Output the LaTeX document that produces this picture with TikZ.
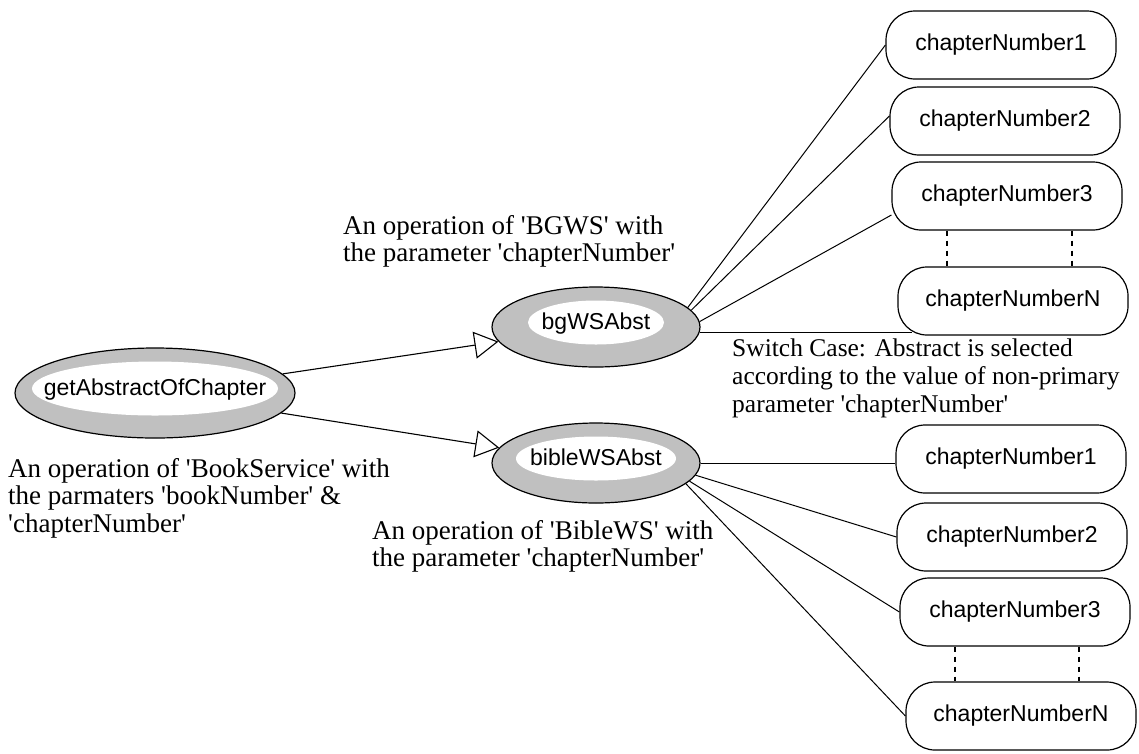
\documentclass[tikz,border=0pt]{standalone}
\usepackage{fontspec}
\setmainfont{Liberation Serif}[Ligatures=TeXOff]
\newfontfamily\arialf{Liberation Sans}
\usetikzlibrary{shapes.geometric,arrows.meta,calc}
\definecolor{ellgrey}{HTML}{C0C0C0}
\begin{document}
\begin{tikzpicture}[x=1pt,y=-1pt,
  every node/.style={inner sep=0pt},
  ell/.style n args={4}{ellipse, draw, line width=1.2pt, fill=ellgrey,
    minimum width=#1, minimum height=#2,
    font=\arialf\fontsize{23}{27}\selectfont, text height=16.8pt, text depth=11pt,
    path picture={\fill[white] ([yshift=4.5pt]path picture bounding box.center) ellipse [x radius=#3, y radius=#4];}},
  chap/.style={draw, line width=1.2pt, fill=white, rounded corners=29pt,
    minimum width=230pt, minimum height=68pt, font=\arialf\fontsize{23}{27}\selectfont},
  note/.style={align=left, anchor=north west, font=\fontsize{27}{27.5}\selectfont},
  conn/.style={line width=1pt},
  arr/.style={line width=1.1pt, -{Triangle[open, length=24pt, width=27pt, line width=1.1pt]}},
  dsh/.style={line width=1.2pt, dash pattern=on 5pt off 5pt}
]
\useasboundingbox (0,0) rectangle (1139,753);

% operations
\node[ell={280pt}{90pt}{123pt}{27pt}] (ga) at (155,393) {\makebox[0pt]{getAbstractOfChapter}};
\node[ell={208pt}{80pt}{68pt}{22pt}] (bg) at (596,327) {\makebox[0pt]{bgWSAbst}};
\node[ell={208pt}{80pt}{80pt}{22pt}] (bib) at (596,463) {\makebox[0pt]{bibleWSAbst}};

% chapter nodes, top group
\node[chap] (T1) at (1001,45) {chapterNumber1};
\node[chap] (T2) at (1005,121) {chapterNumber2};
\node[chap] (T3) at (1007,196) {chapterNumber3};
\node[chap] (TN) at (1013,301) {chapterNumberN};
% chapter nodes, bottom group
\node[chap] (B1) at (1011,459) {chapterNumber1};
\node[chap] (B2) at (1012,537) {chapterNumber2};
\node[chap] (B3) at (1015,612) {chapterNumber3};
\node[chap] (BN) at (1021,716) {chapterNumberN};

% notes
\node[note] (nbg) at (343,215) {An operation of 'BGWS' with\\the parameter 'chapterNumber'};
\node[note] (nga) at (8,458) {An operation of 'BookService' with\\the parmaters 'bookNumber' \&\\'chapterNumber'};
\node[note] (nbib) at (372,520) {An operation of 'BibleWS' with\\the parameter 'chapterNumber'};
\node[note, font=\fontsize{25.5}{28}\selectfont] (nsw) at (732,339) {Switch Case: Abstract is selected\\according to the value of non-primary\\parameter 'chapterNumber'};

% arrows
\draw[arr] (ga) -- (bg);
\draw[arr] (ga) -- (bib);

% top connectors
\draw[conn] (bg.12) -- (T1.west);
\draw[conn] (bg.10) -- ([yshift=5pt]T2.west);
\draw[conn] (bg.3) -- ([yshift=-19pt]T3.west);
\coordinate (tnend) at ([xshift=15pt]TN.south west);
\draw[conn] (bg.-3) -- (bg.-3 -| tnend);

% bottom connectors
\draw[conn] (bib.east) -- (bib.east -| B1.west);
\draw[conn] (bib.-7) -- (B2.west);
\draw[conn] (bib.-11) -- (B3.west);
\draw[conn] (bib.-13) -- (BN.west);

% dashed continuation
\coordinate (d1) at ([xshift=-60pt]T3.south);
\coordinate (d2) at ([xshift=65pt]T3.south);
\draw[dsh] (d1) -- (d1 |- TN.north);
\draw[dsh] (d2) -- (d2 |- TN.north);
\coordinate (d3) at ([xshift=-60pt]B3.south);
\coordinate (d4) at ([xshift=64pt]B3.south);
\draw[dsh] (d3) -- (d3 |- BN.north);
\draw[dsh] (d4) -- (d4 |- BN.north);
\end{tikzpicture}
\end{document}
